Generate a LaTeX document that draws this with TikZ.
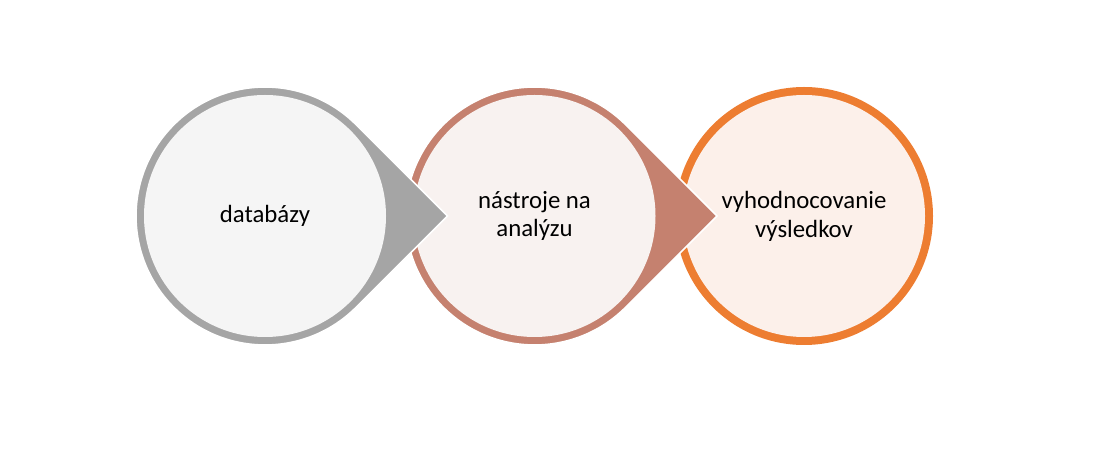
\documentclass[tikz,border=0pt]{standalone}
\usepackage{fontspec}
\setmainfont{Carlito}
\usetikzlibrary{calc}
\definecolor{dbring}{HTML}{A5A5A5}
\definecolor{dbfill}{HTML}{F5F5F5}
\definecolor{toolring}{HTML}{C5816F}
\definecolor{toolfill}{HTML}{F8F2F0}
\definecolor{evalring}{HTML}{ED7D31}
\definecolor{evalfill}{HTML}{FCF0EA}
\tikzset{
    label text/.style={align=center, font=\fontsize{18.6}{21.6}\selectfont},
    tip edge/.style={draw=white, line width=1.2pt},
}
% teardrop: centre, ring colour, fill colour
\newcommand\teardrop[3]{
    \filldraw[tip edge, fill=#2] (#1) ++(45:129) arc (45:315:129) -- ($(#1)+(182.4,0)$) -- cycle;
    \fill[#3] (#1) circle (121);
}
\begin{document}
\begin{tikzpicture}[x=0.75pt, y=0.75pt]
    \useasboundingbox (0,0) rectangle (1104,457);
    \coordinate (db)   at (265,241);
    \coordinate (tool) at (534.5,241);
    \coordinate (eval) at (804,241);
    \fill[evalring] (eval) circle (129); % last one, no tip
    \fill[evalfill] (eval) circle (121);
    \teardrop{tool}{toolring}{toolfill}
    \teardrop{db}{dbring}{dbfill}
    \node[label text] (dbtext)   at (db)   {databázy};
    \node[label text] (tooltext) at (tool) {nástroje na\\analýzu};
    \node[label text] (evaltext) at (eval) {vyhodnocovanie\\výsledkov};
\end{tikzpicture}
\end{document}
